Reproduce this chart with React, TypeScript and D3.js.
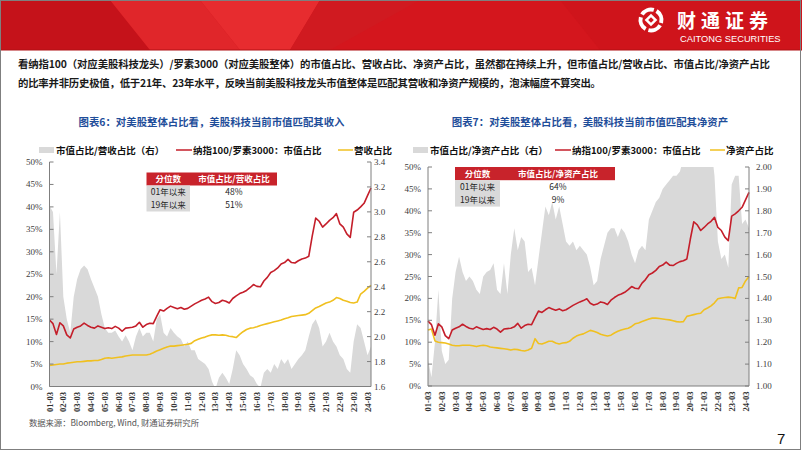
import React from 'react';
import * as d3 from 'd3';

// ---------- data (quarterly, 2001-03 ... 2024-06) ----------
const N_QUARTERS = 94;
const DATES: Date[] = d3.range(N_QUARTERS).map((i) => new Date(2001, 2 + 3 * i, 1));

const X_TICK_LABELS = ['01-03','02-03','03-03','04-03','05-03','06-03','07-03','08-03','09-03','10-03','11-03','12-03','13-03','14-03','15-03','16-03','17-03','18-03','19-03','20-03','21-03','22-03','23-03','24-03'];
const PCT_TICKS = [0, 5, 10, 15, 20, 25, 30, 35, 40, 45, 50];
const R_TICKS_6 = [1.6, 1.8, 2.0, 2.2, 2.4, 2.6, 2.8, 3.0, 3.2, 3.4];
const R_TICKS_7 = [1.0, 1.1, 1.2, 1.3, 1.4, 1.5, 1.6, 1.7, 1.8, 1.9, 2.0];

// 纳指100/罗素3000：市值占比 (%)
const MCAP_SHARE = [
  14.8,14.0,11.6,14.2,13.5,11.5,10.8,12.8,13.2,13.5,
  14.1,13.6,13.2,13.0,13.5,13.2,12.9,13.1,12.9,13.4,
  13.0,12.3,13.0,13.1,13.2,13.5,14.3,13.2,13.8,14.1,
  14.0,15.6,17.1,16.8,17.4,17.9,17.6,17.3,17.6,17.2,
  17.4,17.9,18.4,18.8,19.2,19.5,19.9,18.9,18.5,18.7,
  19.2,19.0,18.6,19.6,20.2,20.7,21.0,21.4,22.0,22.7,
  22.3,22.2,23.5,24.3,25.4,25.8,26.4,27.3,27.6,28.3,
  27.6,27.5,28.0,28.4,28.6,29.0,33.5,37.5,36.8,35.5,
  36.2,37.0,37.6,38.5,36.2,35.5,34.0,33.2,38.8,39.3,
  40.0,40.8,42.5,44.2,
];
// 营收占比 (%)
const REV_SHARE = [
  4.7,4.8,4.9,5.0,5.0,5.2,5.3,5.4,5.5,5.5,
  5.6,5.7,5.7,5.8,5.8,6.0,6.3,6.4,6.3,6.4,
  6.5,6.6,6.8,6.9,7.0,7.0,7.0,7.0,7.0,7.2,
  7.5,7.9,8.2,8.5,8.8,9.0,9.0,9.1,9.2,9.3,
  9.4,9.6,10.2,10.5,10.8,11.0,11.3,11.5,11.5,11.4,
  11.5,11.4,11.2,11.1,10.9,11.6,12.2,12.7,13.0,13.1,
  13.3,13.6,13.8,14.0,14.2,14.4,14.6,14.8,15.1,15.3,
  15.6,15.7,15.8,15.9,16.0,16.3,16.9,17.5,17.8,18.2,
  18.6,18.8,19.2,19.8,19.6,19.2,19.0,18.7,18.6,18.8,
  20.6,21.2,21.9,22.5,
];
// 市值占比/营收占比 (右)
const MCAP_REV_RATIO = [
  3.05,3.0,2.5,3.0,2.32,2.14,2.03,2.32,2.46,2.54,
  2.57,2.54,2.46,2.39,2.32,2.18,2.07,2.03,2.03,2.05,
  2.0,1.96,2.01,1.96,1.89,2.0,2.07,2.0,2.03,2.03,
  1.96,2.14,2.18,2.03,2.0,2.07,2.03,2.0,1.98,1.92,
  1.96,1.89,1.89,1.82,1.8,1.78,1.74,1.64,1.58,1.67,
  1.71,1.67,1.62,1.74,1.89,1.85,1.78,1.74,1.69,1.67,
  1.62,1.59,1.71,1.74,1.71,1.78,1.74,1.82,1.78,1.82,
  1.74,1.78,1.82,1.85,1.89,2.0,2.1,2.14,2.07,1.92,
  1.96,2.03,1.96,1.92,1.85,1.82,1.74,1.71,1.96,2.1,
  2.07,1.96,1.85,1.92,
];
// 净资产占比 (%)
const EQUITY_SHARE = [
  12.8,13.0,10.3,10.0,9.9,9.8,9.6,9.3,9.2,9.2,
  9.3,9.3,9.3,9.2,9.0,9.2,9.3,9.2,8.9,8.8,
  8.7,8.6,8.5,8.4,8.2,8.4,8.3,8.1,8.0,8.2,
  8.6,10.8,9.7,9.6,9.9,10.2,10.2,9.8,9.6,9.8,
  9.9,10.2,10.9,11.4,11.7,11.9,12.3,12.7,12.5,12.2,
  11.8,11.6,11.4,11.6,12.1,12.5,12.8,13.0,13.2,13.6,
  14.2,14.4,14.7,15.0,15.3,15.5,15.5,15.4,15.3,15.2,
  15.1,14.9,14.7,14.6,14.7,15.9,16.1,16.3,16.5,16.6,
  17.4,17.8,18.3,19.0,19.9,20.1,20.2,20.3,20.2,20.0,
  22.4,22.5,24.0,25.0,
];
// 市值占比/净资产占比 (右)
const MCAP_EQ_RATIO = [
  1.12,1.04,1.2,1.44,1.16,1.1,1.12,1.4,1.52,1.59,
  1.52,1.48,1.5,1.48,1.44,1.42,1.5,1.52,1.53,1.56,
  1.44,1.42,1.56,1.42,1.6,1.72,1.62,1.68,1.66,1.52,
  1.54,1.46,1.58,1.7,1.82,1.78,1.84,1.76,1.82,1.74,
  1.66,1.64,1.66,1.62,1.64,1.62,1.6,1.54,1.46,1.48,
  1.58,1.64,1.7,1.72,1.72,1.68,1.72,1.7,1.66,1.6,
  1.56,1.62,1.64,1.62,1.76,1.8,1.84,1.86,1.9,1.92,
  1.94,1.96,1.96,1.98,2.04,2.1,2.2,2.3,2.25,2.2,
  2.15,2.2,2.1,1.96,1.66,1.58,1.6,1.54,1.92,1.96,
  1.96,1.74,1.76,1.72,
];

const TABLE_ROWS = ['01年以来', '19年以来'];
const TABLE_6 = ['48%', '51%'];
const TABLE_7 = ['64%', '9%'];

// ---------- style ----------
const RED = '#c41e2a';
const YELLOW = '#f0c020';
const GRAY = '#d9d9d9';
const AXIS = '#7f7f7f';
const CJK = '"Noto Sans CJK SC", "Noto Sans", sans-serif';
const SERIF = '"Liberation Serif", "DejaVu Serif", serif';

type PanelCfg = {
  id: string;
  x0: number; x1: number; yTop: number; yBot: number;
  rDomain: [number, number]; rTicks: number[]; rFmt: (v: number) => string;
  rGap: number;
  yellow: number[]; gray: number[];
  title: string; titleX: number;
  legendGray: { x: number; text: string };
  legendRed: { x: number };
  legendYellow: { x: number; text: string };
  table: { x: number; c1: number; x2: number; yTop: number; rowH: number; head: string; values: string[]; c2: number };
};

function Panel({ p }: { p: PanelCfg }) {
  const x = d3.scaleTime().domain([DATES[0], DATES[DATES.length - 1]]).range([p.x0, p.x1]);
  const yL = d3.scaleLinear().domain([0, 50]).range([p.yBot, p.yTop]);
  const yR = d3.scaleLinear().domain(p.rDomain).range([p.yBot, p.yTop]);
  const area = d3.area<number>().x((_, i) => x(DATES[i])).y0(p.yBot + 2).y1((v) => yR(v));
  const lineL = d3.line<number>().x((_, i) => x(DATES[i])).y((v) => yL(v));
  const clipId = `clip-${p.id}`;
  const t = p.table;
  return (
    <g>
      <text x={p.titleX} y={125.5} textAnchor="middle" fontFamily={CJK} fontWeight="bold" fontSize={10.4} fill="#1f4e9a">{p.title}</text>
      {/* legend */}
      <rect x={p.legendGray.x} y={147} width={15} height={6} fill={GRAY} />
      <text x={p.legendGray.x + 17} y={153.5} fontFamily={CJK} fontSize={9.5} fontWeight="bold" fill="#111">{p.legendGray.text}</text>
      <line x1={p.legendRed.x} x2={p.legendRed.x + 16} y1={150} y2={150} stroke={RED} strokeWidth={1.5} />
      <text x={p.legendRed.x + 17} y={153.5} fontFamily={CJK} fontSize={9.5} fontWeight="bold" fill="#111">纳指100/罗素3000：市值占比</text>
      <line x1={p.legendYellow.x} x2={p.legendYellow.x + 15} y1={150} y2={150} stroke={YELLOW} strokeWidth={1.5} />
      <text x={p.legendYellow.x + 16} y={153.5} fontFamily={CJK} fontSize={9.5} fontWeight="bold" fill="#111">{p.legendYellow.text}</text>

      <defs>
        <clipPath id={clipId}>
          <rect x={p.x0} y={p.yTop} width={p.x1 - p.x0} height={p.yBot - p.yTop} />
        </clipPath>
      </defs>
      <g clipPath={`url(#${clipId})`}>
        <path d={area(p.gray) || ''} fill={GRAY} />
      </g>
      <path d={lineL(p.yellow) || ''} fill="none" stroke={YELLOW} strokeWidth={1.6} strokeLinejoin="round" />
      <path d={lineL(MCAP_SHARE) || ''} fill="none" stroke={RED} strokeWidth={1.6} strokeLinejoin="round" />

      {/* axes */}
      <line x1={p.x0} x2={p.x0} y1={p.yTop} y2={p.yBot} stroke={AXIS} strokeWidth={1} />
      <line x1={p.x1} x2={p.x1} y1={p.yTop} y2={p.yBot} stroke={AXIS} strokeWidth={1} />
      <line x1={p.x0} x2={p.x1} y1={p.yBot} y2={p.yBot} stroke={AXIS} strokeWidth={1} />
      {PCT_TICKS.map((v) => (
        <g key={'l' + v}>
          <line x1={p.x0} x2={p.x0 + 4} y1={yL(v)} y2={yL(v)} stroke={AXIS} />
          <text x={p.x0 - 7} y={yL(v) + 3} textAnchor="end" fontFamily={SERIF} fontSize={9} fill="#404040">{v}%</text>
        </g>
      ))}
      {p.rTicks.map((v) => (
        <g key={'r' + v}>
          <line x1={p.x1 - 4} x2={p.x1} y1={yR(v)} y2={yR(v)} stroke={AXIS} />
          <text x={p.x1 + p.rGap} y={yR(v) + 3} fontFamily={SERIF} fontSize={9} fill="#404040">{p.rFmt(v)}</text>
        </g>
      ))}
      {X_TICK_LABELS.map((lab, k) => {
        const tx = x(new Date(2001 + k, 2, 1));
        return (
          <text key={lab} transform={`translate(${tx + 3},${p.yBot + 5.5}) rotate(-90)`} textAnchor="end" fontFamily={SERIF} fontSize={8.6} fontWeight="bold" fill="#333">{lab}</text>
        );
      })}

      {/* table */}
      <rect x={t.x} y={t.yTop} width={t.x2 - t.x} height={t.rowH} fill="#c8232b" />
      <rect x={t.x} y={t.yTop + t.rowH} width={t.c1 - t.x} height={t.rowH * 2} fill={GRAY} />
      <text x={(t.x + t.c1) / 2} y={t.yTop + t.rowH / 2 + 3} textAnchor="middle" fontFamily={CJK} fontSize={8.5} fontWeight="bold" fill="#fff">分位数</text>
      <text x={t.c2} y={t.yTop + t.rowH / 2 + 3} textAnchor="middle" fontFamily={CJK} fontSize={8.5} fontWeight="bold" fill="#fff">{t.head}</text>
      {TABLE_ROWS.map((r, i) => (
        <g key={r}>
          <text x={(t.x + t.c1) / 2} y={t.yTop + t.rowH * (i + 1.5) + 3} textAnchor="middle" fontFamily={CJK} fontSize={8.5} fill="#262626">{r}</text>
          <text x={t.c2} y={t.yTop + t.rowH * (i + 1.5) + 3} textAnchor="middle" fontFamily={CJK} fontSize={8.5} fill="#262626">{t.values[i]}</text>
        </g>
      ))}
    </g>
  );
}

const PANEL_6: PanelCfg = {
  id: 'p6', x0: 49.5, x1: 371, yTop: 162, yBot: 386.5,
  rDomain: [1.6, 3.4], rTicks: R_TICKS_6, rFmt: d3.format('.1f'), rGap: 3,
  yellow: REV_SHARE, gray: MCAP_REV_RATIO,
  title: '图表6：对美股整体占比看，美股科技当前市值匹配其收入', titleX: 211.5,
  legendGray: { x: 39, text: '市值占比/营收占比（右）' },
  legendRed: { x: 176 },
  legendYellow: { x: 338, text: '营收占比' },
  table: { x: 146.5, c1: 190, x2: 277, yTop: 172.5, rowH: 13, head: '市值占比/营收占比', values: TABLE_6, c2: 234 },
};
const PANEL_7: PanelCfg = {
  id: 'p7', x0: 428, x1: 749, yTop: 167, yBot: 386,
  rDomain: [1.0, 2.0], rTicks: R_TICKS_7, rFmt: d3.format('.2f'), rGap: 7,
  yellow: EQUITY_SHARE, gray: MCAP_EQ_RATIO,
  title: '图表7：对美股整体占比看，美股科技当前市值匹配其净资产', titleX: 590,
  legendGray: { x: 413, text: '市值占比/净资产占比（右）' },
  legendRed: { x: 555 },
  legendYellow: { x: 710, text: '净资产占比' },
  table: { x: 455, c1: 500, x2: 615, yTop: 167, rowH: 13.2, head: '市值占比/净资产占比', values: TABLE_7, c2: 558 },
};

function Header() {
  return (
    <g>
      <rect x={0} y={0} width={802} height={50} fill="#d4161d" />
      <polygon points="0,0 110,0 150,50 0,50" fill="#c5121a" />
      <polygon points="110,0 200,0 240,50 150,50" fill="#e0262a" />
      <polygon points="200,0 320,0 290,50 240,50" fill="#ea3033" opacity={0.85} />
      <polygon points="320,0 420,0 330,50 290,50" fill="#d01a20" />
      <polygon points="560,0 802,0 802,50 600,50" fill="#cf141b" />
      <line x1={0} x2={802} y1={50} y2={50} stroke="#b01015" strokeWidth={1} />
      {/* logo */}
      <circle cx={651} cy={20} r={10.5} fill="none" stroke="#fff" strokeWidth={4} strokeDasharray="13.5 3" transform="rotate(30 651 20)" />
      <rect x={646.5} y={15.5} width={9} height={9} fill="#fff" transform="rotate(45 651 20)" />
      <rect x={649} y={18} width={4} height={4} fill="#d4161d" transform="rotate(45 651 20)" />
      <text x={677} y={28} fontFamily={CJK} fontWeight="bold" fontSize={19} letterSpacing={5} fill="#fff">财通证券</text>
      <text x={680} y={41.5} fontFamily='"Liberation Sans", Arial, sans-serif' fontSize={9.3} fill="#fff">CAITONG SECURITIES</text>
    </g>
  );
}

export default function App() {
  return (
    <svg width={802} height={451} viewBox="0 0 802 451" style={{ position: 'absolute', left: 0, top: 0, background: '#fff' }}>
      <rect x={0} y={0} width={802} height={451} fill="#fff" />
      <Header />
      <text x={18} y={68} fontFamily={CJK} fontWeight="bold" fontSize={10.4} fill="#1a1a1a" textLength={752} lengthAdjust="spacing">看纳指100（对应美股科技龙头）/罗素3000（对应美股整体）的市值占比、营收占比、净资产占比，虽然都在持续上升，但市值占比/营收占比、市值占比/净资产占比</text>
      <text x={18} y={87} fontFamily={CJK} fontWeight="bold" fontSize={10.4} fill="#1a1a1a" textLength={583} lengthAdjust="spacing">的比率并非历史极值，低于21年、23年水平，反映当前美股科技龙头市值整体是匹配其营收和净资产规模的，泡沫幅度不算突出。</text>
      <Panel p={PANEL_6} />
      <Panel p={PANEL_7} />
      <text x={29} y={426} fontFamily={CJK} fontSize={8.4} fill="#555" textLength={170} lengthAdjust="spacing">数据来源：Bloomberg, Wind, 财通证券研究所</text>
      <text x={777} y={444} fontFamily='"Liberation Sans", Arial, sans-serif' fontSize={15} fill="#111">7</text>
      <rect x={0.5} y={0.5} width={800} height={449} fill="none" stroke="#7f7f7f" strokeWidth={1} />
    </svg>
  );
}
